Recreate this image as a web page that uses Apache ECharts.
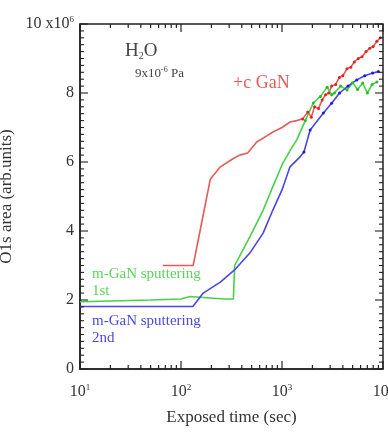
<!DOCTYPE html>
<html><head><meta charset="utf-8">
<script src="https://cdn.jsdelivr.net/npm/echarts@6/dist/echarts.min.js"></script>
<style>html,body{margin:0;padding:0;background:#fff}#c{width:388px;height:432px}</style>
</head><body><div id="c"></div>
<script>
// Exposed time (sec) vs O1s area (x10^6 arb. units)
const redCGaN = [[66,3.0],[132,3.0],[195,5.5],[245,5.86],[330,6.1],[380,6.2],[457,6.26],[562,6.58],[700,6.75],[813,6.87],[1000,7.0],[1202,7.16],[1400,7.2],[1600,7.25],[1800,7.45],[1950,7.3],[2100,7.6],[2300,7.55],[2500,7.8],[2700,7.95],[2900,8.0],[3100,8.2],[3400,8.25],[3700,8.45],[4000,8.5],[4400,8.7],[4800,8.75],[5200,8.9],[5700,9.0],[6200,9.05],[6800,9.2],[7400,9.3],[8000,9.35],[8700,9.5],[9400,9.6]];
const greenSput1 = [[10,1.95],[50,2.0],[100,2.03],[123,2.1],[265,2.03],[330,2.03],[340,3.0],[480,3.83],[650,4.6],[810,5.28],[1020,5.97],[1260,6.43],[1400,6.64],[1700,7.2],[2040,7.71],[2400,7.9],[2800,8.17],[3100,7.95],[3300,8.0],[3800,8.2],[4400,8.09],[5000,8.3],[5600,8.1],[6300,8.29],[7000,8.0],[7800,8.25],[8700,8.32]];
const blueSput2 = [[10,1.81],[131,1.81],[166,2.2],[245,2.52],[339,2.87],[480,3.36],[650,3.94],[810,4.6],[1000,5.19],[1200,5.86],[1500,6.14],[1650,6.29],[1900,6.93],[2570,7.42],[3100,7.7],[3715,8.0],[4500,8.2],[5500,8.38],[6600,8.5],[7900,8.58],[9000,8.62]];
const yTicks = [0,2,4,6,8,10];
const xTicks = [10,100,1000,10000];
// axis decoration: log ticks (1..9 per decade) and y ticks every 0.2
const xAllTicks = [];
for (let d = 10; d < 10000; d *= 10) for (let k = 1; k <= 9; k++) xAllTicks.push(k * d);
xAllTicks.push(10000);
const yAllTicks = [];
for (let i = 0; i <= 50; i++) yAllTicks.push(i / 5);

const serif = 'Liberation Serif';
const chart = echarts.init(document.getElementById('c'));
const supRich = {sup:{fontSize:9,padding:[0,0,9,0],fontFamily:serif,color:'#333'}};
const expOf = v => Math.round(Math.log10(v));

chart.setOption({
  animation:false,
  grid:{left:80,right:5,top:24,bottom:63,
    outerBounds:{left:-200,right:-200,top:-200,bottom:-200},
    show:true,borderColor:'#222',borderWidth:1.5},
  xAxis:{
    type:'log', min:10, max:10000,
    name:'Exposed time (sec)', nameLocation:'middle', nameGap:40,
    nameTextStyle:{fontFamily:serif,fontSize:17,color:'#333'},
    axisLine:{lineStyle:{color:'#222',width:1.5}},
    axisTick:{show:false},
    splitLine:{show:false},
    axisLabel:{fontFamily:serif,fontSize:16,color:'#333',margin:14,
      formatter: v => '10{sup|' + expOf(v) + '}', rich:supRich}
  },
  yAxis:{
    type:'value', min:0, max:10, interval:2,
    name:'O1s area (arb.units)', nameLocation:'middle', nameGap:44, nameRotate:90,
    nameTextStyle:{fontFamily:serif,fontSize:17,color:'#333'},
    axisLine:{show:true,lineStyle:{color:'#222',width:1.5}},
    axisTick:{show:false},
    splitLine:{show:false},
    axisLabel:{fontFamily:serif,fontSize:16,color:'#333',margin:6,
      formatter: v => v === 10 ? '10 x10{sup|6}' : String(v), rich:supRich}
  },
  series:[
    {type:'line', name:'+c GaN', data:redCGaN, symbol:'circle',
      symbolSize:(v)=> v[0] > 1500 ? 3 : 0, showAllSymbol:true,
      lineStyle:{color:'#e65a5a',width:1.6}, itemStyle:{color:'#e82020'}},
    {type:'line', name:'m-GaN 1st', data:greenSput1, symbol:'circle',
      symbolSize:(v)=> v[0] > 1500 ? 3 : 0, showAllSymbol:true,
      lineStyle:{color:'#48d048',width:1.6}, itemStyle:{color:'#20c020'}},
    {type:'line', name:'m-GaN 2nd', data:blueSput2, symbol:'circle',
      symbolSize:(v)=> v[0] > 1500 ? 3 : 0, showAllSymbol:true,
      lineStyle:{color:'#4848e0',width:1.6}, itemStyle:{color:'#1a1ae0'}},
    {type:'custom', silent:true, z:5, clip:false,
      data: xAllTicks.map(v => [v, 0]),
      renderItem: function (params, api) {
        const v = api.value(0);
        const x = api.coord([v, 0])[0];
        const cs = params.coordSys;
        const major = Math.abs(Math.log10(v) - Math.round(Math.log10(v))) < 1e-6;
        const len = major ? 8 : 4;
        const yb = cs.y + cs.height, yt = cs.y;
        return {type:'group', children:[
          {type:'line', shape:{x1:x,y1:yb,x2:x,y2:yb-len}, style:{stroke:'#222',lineWidth:1.2}},
          {type:'line', shape:{x1:x,y1:yt,x2:x,y2:yt+len}, style:{stroke:'#222',lineWidth:1.2}}
        ]};
      }},
    {type:'custom', silent:true, z:5, clip:false,
      data: yAllTicks.map(v => [10, v]),
      renderItem: function (params, api) {
        const v = api.value(1);
        const y = api.coord([10, v])[1];
        const cs = params.coordSys;
        const major = Math.abs(v / 2 - Math.round(v / 2)) < 1e-6;
        const len = major ? 8 : 4;
        const xl = cs.x, xr = cs.x + cs.width;
        return {type:'group', children:[
          {type:'line', shape:{x1:xl,y1:y,x2:xl+len,y2:y}, style:{stroke:'#222',lineWidth:1.1}},
          {type:'line', shape:{x1:xr,y1:y,x2:xr-len,y2:y}, style:{stroke:'#222',lineWidth:1.1}}
        ]};
      }}
  ],
  graphic:[
    {type:'text', left:125, top:42, style:{text:'H{sub|2}O', fontFamily:serif, fontSize:19, fill:'#444',
      rich:{sub:{fontSize:10,padding:[10,0,0,0],fontFamily:serif,fill:'#444'}}}},
    {type:'text', left:135, top:66, style:{text:'9x10{sup|-6} Pa', fontFamily:serif, fontSize:13, fill:'#444',
      rich:{sup:{fontSize:8,padding:[0,0,7,0],fontFamily:serif,fill:'#444'}}}},
    {type:'text', left:233, top:74, style:{text:'+c GaN', fontFamily:serif, fontSize:18, fill:'#e65a5a'}},
    {type:'text', left:92, top:266, style:{text:'m-GaN sputtering\n1st', fontFamily:serif, fontSize:15, lineHeight:17, fill:'#5cd25c'}},
    {type:'text', left:92, top:313, style:{text:'m-GaN sputtering\n2nd', fontFamily:serif, fontSize:15, lineHeight:17, fill:'#4a4ae0'}}
  ]
});
</script></body></html>
